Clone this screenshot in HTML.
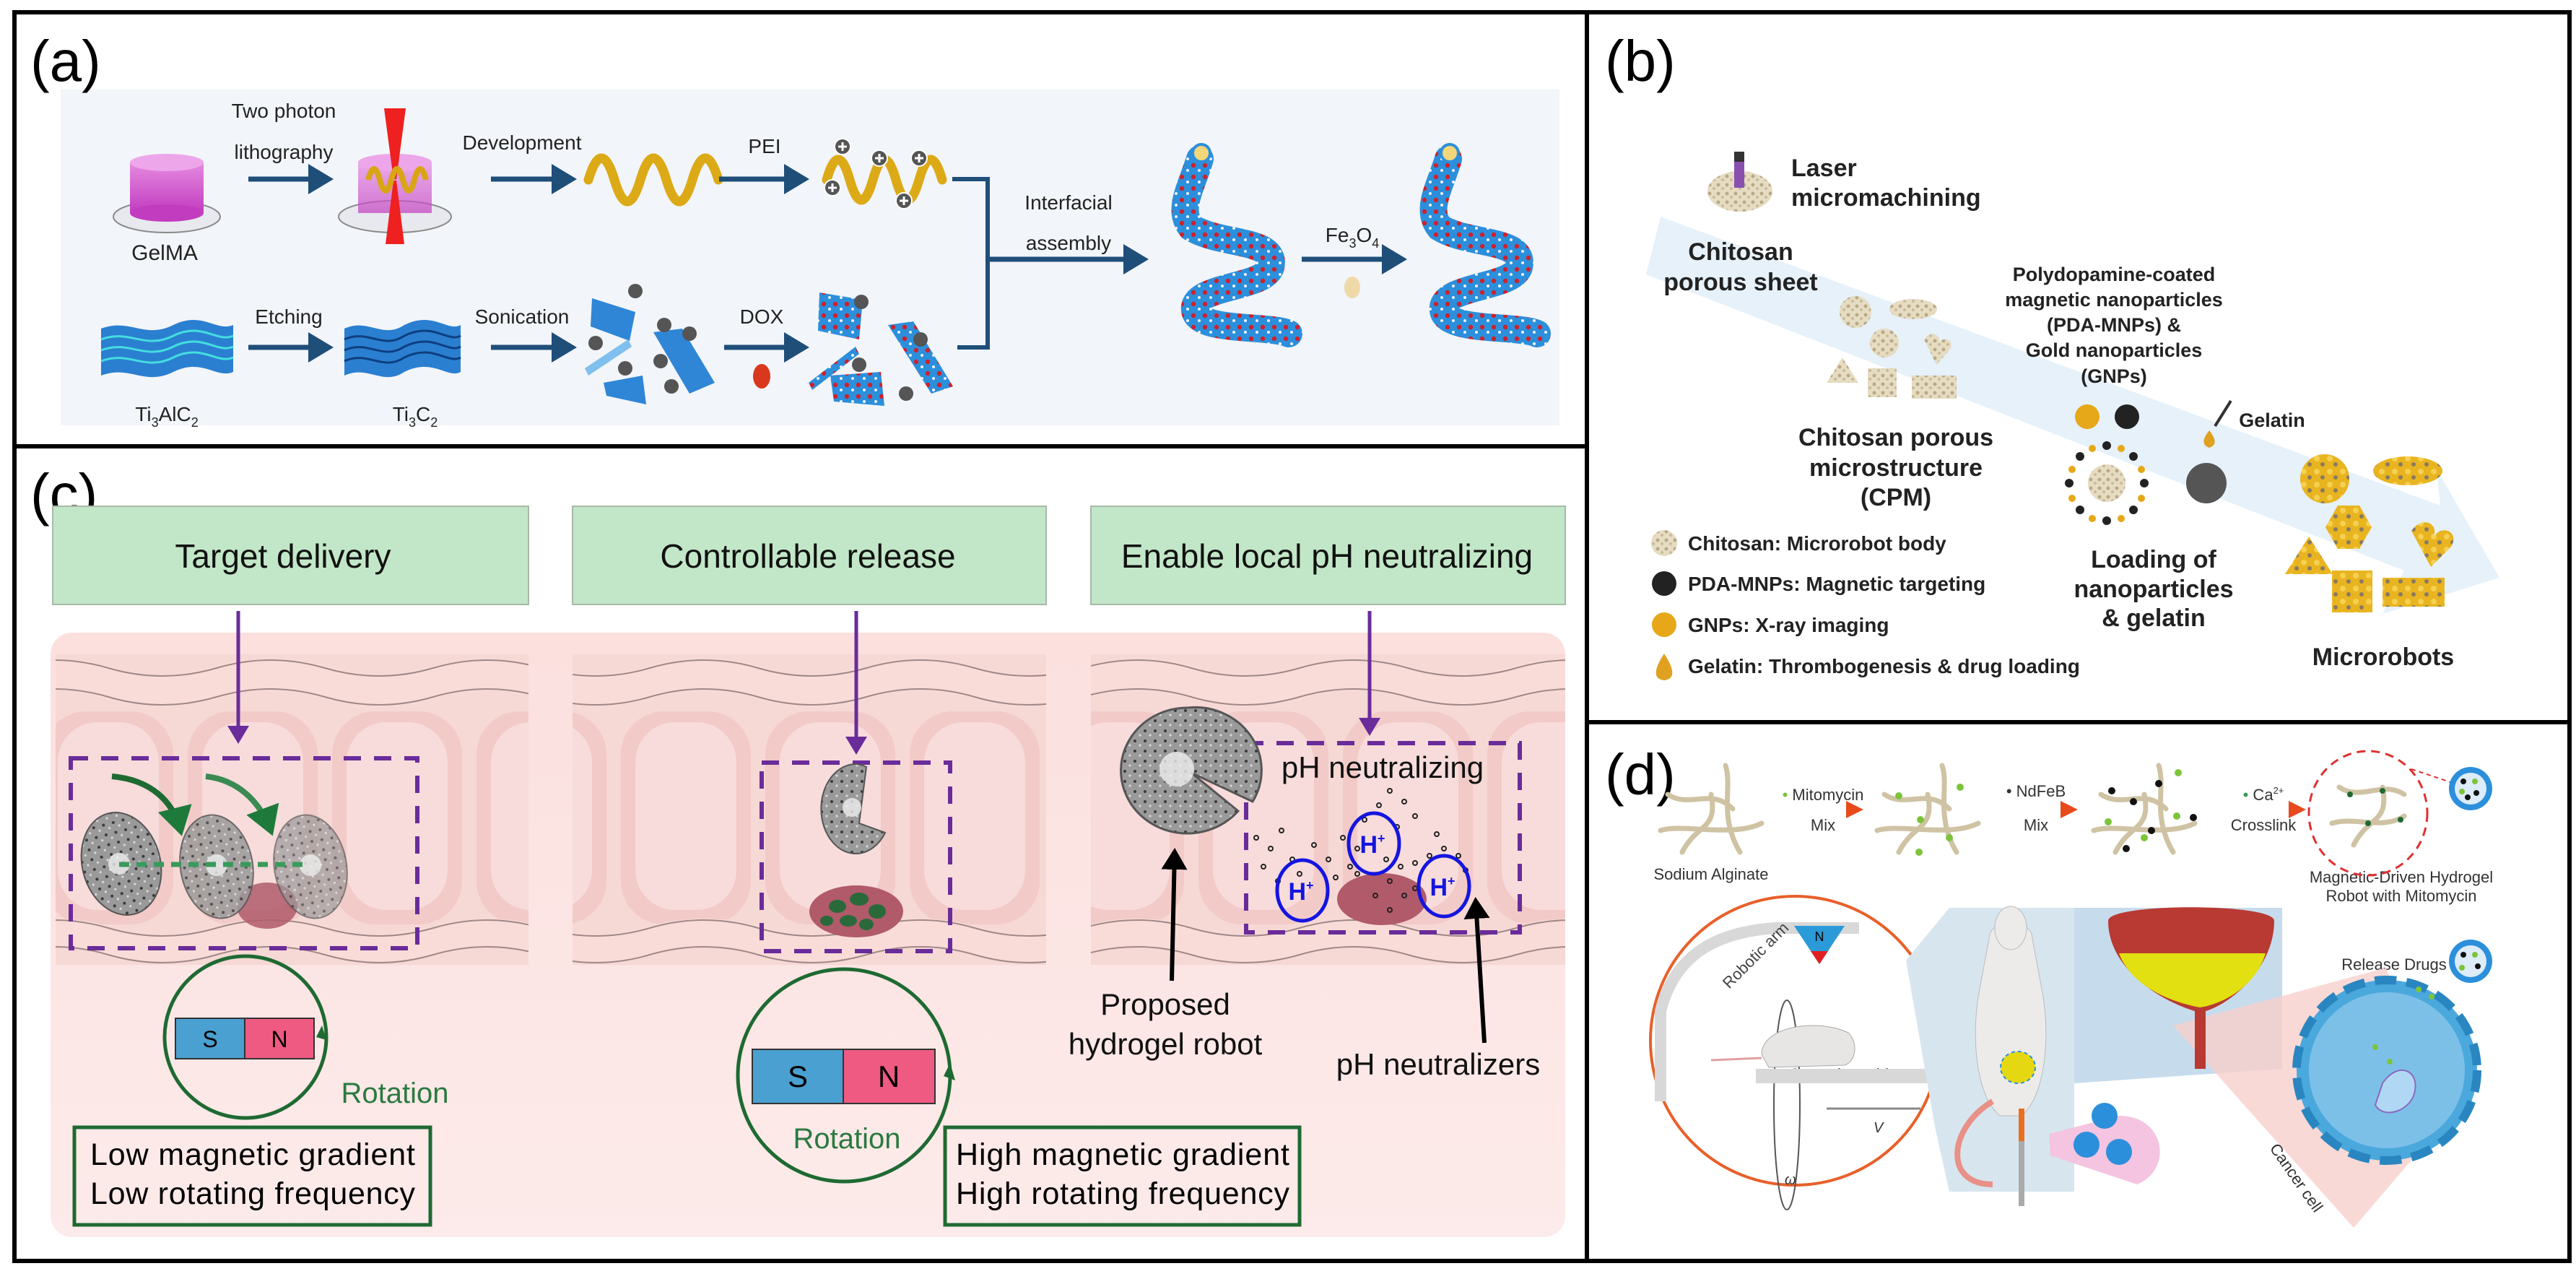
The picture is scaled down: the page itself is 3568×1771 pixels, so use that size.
<!DOCTYPE html>
<html><head><meta charset="utf-8"><style>
html,body{margin:0;padding:0;background:#fff}
svg{display:block}
text{font-family:"Liberation Sans",sans-serif}
</style></head><body>
<svg width="3568" height="1771" viewBox="0 0 3568 1771" xmlns="http://www.w3.org/2000/svg">
<defs>
<linearGradient id="mag" x1="0" y1="0" x2="0" y2="1"><stop offset="0" stop-color="#e58ae0"/><stop offset="1" stop-color="#c23cc0"/></linearGradient>
<linearGradient id="pinkbg" x1="0" y1="0" x2="0" y2="1"><stop offset="0" stop-color="#fbe0de"/><stop offset="1" stop-color="#fcebea"/></linearGradient>
<linearGradient id="orar" x1="0" y1="0" x2="1" y2="0"><stop offset="0" stop-color="#f6c070"/><stop offset="1" stop-color="#e84a1c"/></linearGradient>
<pattern id="rdots" width="16" height="16" patternUnits="userSpaceOnUse"><rect width="16" height="16" fill="#2c8fdc"/><circle cx="5" cy="5" r="3.2" fill="#d0202a"/><circle cx="13" cy="12" r="2" fill="#f3f3f3"/></pattern>
<pattern id="gdots" width="14" height="14" patternUnits="userSpaceOnUse"><rect width="14" height="14" fill="#9a9a9a"/><circle cx="4" cy="4" r="2" fill="#3a3a3a"/><circle cx="11" cy="10" r="1.6" fill="#d8d8d8"/></pattern>
<pattern id="chit" width="12" height="12" patternUnits="userSpaceOnUse"><rect width="12" height="12" fill="#e6dcc2"/><circle cx="4" cy="4" r="2.5" fill="#b9a987"/><circle cx="10" cy="9" r="2" fill="#c9bb9a"/></pattern>
<pattern id="gold" width="18" height="18" patternUnits="userSpaceOnUse"><rect width="18" height="18" fill="#e8b420"/><circle cx="5" cy="5" r="4" fill="#f6d050"/><circle cx="13" cy="13" r="3" fill="#8a7a60"/></pattern>
<marker id="ab" markerWidth="6" markerHeight="6" refX="4" refY="3" orient="auto"><path d="M0,0 L5,3 L0,6 Z" fill="#1f4e79"/></marker>
<marker id="ap" markerWidth="5" markerHeight="6" refX="4" refY="3" orient="auto"><path d="M0,0 L5,3 L0,6 Z" fill="#6a2c9a"/></marker>
<marker id="ak" markerWidth="5" markerHeight="6" refX="4" refY="3" orient="auto"><path d="M0,0 L5,3 L0,6 Z" fill="#000"/></marker>
<marker id="ag" markerWidth="5" markerHeight="6" refX="4" refY="3" orient="auto"><path d="M0,0 L5,3 L0,6 Z" fill="#1e7a3a"/></marker>
<marker id="ao" markerWidth="4" markerHeight="4" refX="3" refY="2" orient="auto"><path d="M0,0 L4,2 L0,4 Z" fill="#e84a1c"/></marker>
<clipPath id="intc"><rect x="77" y="900" width="655" height="436"/><rect x="793" y="900" width="656" height="436"/><rect x="1511" y="900" width="657" height="436"/></clipPath>
<path id="wv" d="M0,0 Q75,-22 150,0 T300,0 T450,0 T600,0 T750,0 T900,0 T1050,0 T1200,0 T1350,0 T1500,0 T1650,0 T1800,0 T1950,0 T2100,0 T2250,0" fill="none"/>
</defs>

<!-- ============ PANEL (a) ============ -->
<rect x="84" y="124" width="2076" height="465" fill="#f2f5f9"/>
<text x="42" y="112" font-size="80" font-family="Liberation Serif">(a)</text>
<ellipse cx="231" cy="300" rx="74" ry="22" fill="#e8e9ee" stroke="#8a8a8a" stroke-width="2"/>
<rect x="180" y="225" width="102" height="70" fill="url(#mag)"/>
<ellipse cx="231" cy="225" rx="51" ry="12" fill="#eda6ea"/>
<ellipse cx="231" cy="295" rx="51" ry="12" fill="#c23cc0"/>
<text x="228" y="360" font-size="30" text-anchor="middle" fill="#222">GelMA</text>
<text x="393" y="163" font-size="28" text-anchor="middle" fill="#222">Two photon</text>
<text x="393" y="220" font-size="28" text-anchor="middle" fill="#222">lithography</text>
<line x1="344" y1="248" x2="455" y2="248" stroke="#1f4e79" stroke-width="7" marker-end="url(#ab)"/>
<ellipse cx="547" cy="300" rx="78" ry="22" fill="#e8e9ee" stroke="#8a8a8a" stroke-width="2"/>
<rect x="496" y="225" width="102" height="70" fill="url(#mag)" opacity="0.7"/>
<ellipse cx="547" cy="225" rx="51" ry="12" fill="#eda6ea"/>
<path d="M532,150 L562,150 L549,248 L545,248 Z" fill="#ee2020"/>
<path d="M545,250 L549,250 L560,338 L534,338 Z" fill="#ee2020"/>
<path d="M510,249 q8,-30 16,0 t16,0 t16,0 t16,0 t16,0" fill="none" stroke="#d9a514" stroke-width="8"/>
<text x="723" y="207" font-size="28" text-anchor="middle" fill="#222">Development</text>
<line x1="680" y1="248" x2="792" y2="248" stroke="#1f4e79" stroke-width="7" marker-end="url(#ab)"/>
<path d="M815,249 q18,-60 36,0 t36,0 t36,0 t36,0 t36,0" fill="none" stroke="#dcaa16" stroke-width="13" stroke-linecap="round"/>
<text x="1059" y="212" font-size="28" text-anchor="middle" fill="#222">PEI</text>
<line x1="996" y1="248" x2="1114" y2="248" stroke="#1f4e79" stroke-width="7" marker-end="url(#ab)"/>
<path d="M1145,249 q16,-56 32,0 t32,0 t32,0 t32,0 t32,0" fill="none" stroke="#dcaa16" stroke-width="13" stroke-linecap="round"/>
<g fill="#555" stroke="#fff" stroke-width="2"><circle cx="1167" cy="203" r="11"/><circle cx="1218" cy="219" r="11"/><circle cx="1273" cy="219" r="11"/><circle cx="1153" cy="260" r="11"/><circle cx="1252" cy="278" r="11"/></g>
<g fill="none" stroke="#fff" stroke-width="3"><path d="M1161,203h12M1167,197v12M1212,219h12M1218,213v12M1267,219h12M1273,213v12M1147,260h12M1153,254v12M1246,278h12M1252,272v12"/></g>
<path d="M1319,248 H1368 V481 H1326" fill="none" stroke="#1f4e79" stroke-width="6"/>
<line x1="1368" y1="359" x2="1584" y2="359" stroke="#1f4e79" stroke-width="7" marker-end="url(#ab)"/>
<text x="1480" y="290" font-size="28" text-anchor="middle" fill="#222">Interfacial</text>
<text x="1480" y="346" font-size="28" text-anchor="middle" fill="#222">assembly</text>
<g fill="none" stroke="url(#rdots)" stroke-width="38" stroke-linecap="round">
<path d="M1662,220 C1650,260 1630,290 1650,315 C1690,340 1770,330 1760,370 C1750,400 1650,395 1655,430 C1660,460 1760,450 1785,462"/>
<path d="M2006,220 C1994,260 1974,290 1994,315 C2034,340 2114,330 2104,370 C2094,400 1994,395 1999,430 C2004,460 2104,450 2129,462"/>
</g>
<circle cx="1664" cy="212" r="12" fill="#f1d77a" stroke="#2c8fdc" stroke-width="4"/>
<circle cx="2008" cy="212" r="12" fill="#f1d77a" stroke="#2c8fdc" stroke-width="4"/>
<text x="1873" y="335" font-size="28" text-anchor="middle" fill="#222">Fe<tspan font-size="18" dy="8">3</tspan><tspan dy="-8">O</tspan><tspan font-size="18" dy="8">4</tspan></text>
<line x1="1803" y1="359" x2="1942" y2="359" stroke="#1f4e79" stroke-width="7" marker-end="url(#ab)"/>
<ellipse cx="1873" cy="398" rx="11" ry="15" fill="#efd9a8"/>
<g>
<path d="M140,455 C180,440 200,470 240,450 C280,430 300,460 323,450 L323,515 C300,525 280,495 240,515 C200,535 180,505 140,520 Z" fill="#2b7fd0"/>
<g stroke="#44dde0" stroke-width="3" fill="none"><path d="M140,470 C180,455 200,485 240,465 C280,445 300,475 323,465"/><path d="M140,485 C180,470 200,500 240,480 C280,460 300,490 323,480"/><path d="M140,500 C180,485 200,515 240,495 C280,475 300,505 323,495"/></g>
</g>
<text x="231" y="583" font-size="28" text-anchor="middle" fill="#222">Ti<tspan font-size="18" dy="8">3</tspan><tspan dy="-8">AlC</tspan><tspan font-size="18" dy="8">2</tspan></text>
<text x="400" y="448" font-size="28" text-anchor="middle" fill="#222">Etching</text>
<line x1="344" y1="481" x2="455" y2="481" stroke="#1f4e79" stroke-width="7" marker-end="url(#ab)"/>
<g>
<path d="M477,455 C510,440 530,470 560,450 C600,430 620,460 638,450 L638,515 C620,525 600,495 560,515 C530,535 510,505 477,520 Z" fill="#2b7fd0"/>
<g stroke="#0d3f80" stroke-width="3" fill="none"><path d="M477,470 C510,455 530,485 560,465 C600,445 620,475 638,465"/><path d="M477,485 C510,470 530,500 560,480 C600,460 620,490 638,480"/><path d="M477,500 C510,485 530,515 560,495 C600,475 620,505 638,495"/></g>
</g>
<text x="575" y="583" font-size="28" text-anchor="middle" fill="#222">Ti<tspan font-size="18" dy="8">3</tspan><tspan dy="-8">C</tspan><tspan font-size="18" dy="8">2</tspan></text>
<text x="723" y="448" font-size="28" text-anchor="middle" fill="#222">Sonication</text>
<line x1="680" y1="481" x2="792" y2="481" stroke="#1f4e79" stroke-width="7" marker-end="url(#ab)"/>
<g fill="#2f86d6"><path d="M820,413 L880,432 L872,472 L818,452 Z"/><path d="M905,460 L945,455 L990,530 L955,545 Z"/><path d="M836,530 L890,520 L895,560 L840,548 Z"/><path d="M810,510 L870,470 L875,480 L815,520 Z" fill="#7fc0ee"/></g>
<g fill="#555"><circle cx="880" cy="403" r="10"/><circle cx="920" cy="450" r="10"/><circle cx="825" cy="475" r="10"/><circle cx="915" cy="500" r="10"/><circle cx="866" cy="510" r="10"/><circle cx="930" cy="535" r="10"/><circle cx="955" cy="462" r="10"/></g>
<text x="1055" y="448" font-size="28" text-anchor="middle" fill="#222">DOX</text>
<line x1="1003" y1="481" x2="1114" y2="481" stroke="#1f4e79" stroke-width="7" marker-end="url(#ab)"/>
<ellipse cx="1055" cy="521" rx="12" ry="17" fill="#d9381e"/>
<g fill="url(#rdots)"><path d="M1135,405 L1195,415 L1190,470 L1133,458 Z"/><path d="M1230,450 L1265,445 L1320,535 L1290,545 Z"/><path d="M1150,520 L1220,515 L1225,562 L1155,556 Z"/><path d="M1120,530 L1185,480 L1190,490 L1125,540 Z"/></g>
<g fill="#555"><circle cx="1193" cy="418" r="10"/><circle cx="1275" cy="470" r="10"/><circle cx="1190" cy="505" r="10"/><circle cx="1255" cy="545" r="10"/></g>

<!-- ============ PANEL (c) ============ -->
<text x="42" y="712" font-size="80" font-family="Liberation Serif">(c)</text>
<g fill="#c2e7c8" stroke="#a8b8a8" stroke-width="2">
<rect x="73" y="701" width="659" height="136"/><rect x="793" y="701" width="656" height="136"/><rect x="1511" y="701" width="657" height="136"/>
</g>
<text x="392" y="786" font-size="46" text-anchor="middle" fill="#111">Target delivery</text>
<text x="1119" y="786" font-size="46" text-anchor="middle" fill="#111">Controllable release</text>
<text x="1838" y="786" font-size="46" text-anchor="middle" fill="#111">Enable local pH neutralizing</text>
<rect x="70" y="876" width="2098" height="837" rx="30" fill="url(#pinkbg)"/>
<g clip-path="url(#intc)">
<rect x="0" y="906" width="2200" height="430" fill="#f6d8d5"/>
<g fill="#f2cac8">
<rect x="60" y="985" width="180" height="295" rx="60"/><rect x="260" y="985" width="180" height="295" rx="60"/><rect x="460" y="985" width="180" height="295" rx="60"/><rect x="660" y="985" width="180" height="295" rx="60"/><rect x="860" y="985" width="180" height="295" rx="60"/><rect x="1060" y="985" width="180" height="295" rx="60"/><rect x="1260" y="985" width="180" height="295" rx="60"/><rect x="1460" y="985" width="180" height="295" rx="60"/><rect x="1660" y="985" width="180" height="295" rx="60"/><rect x="1860" y="985" width="180" height="295" rx="60"/><rect x="2060" y="985" width="180" height="295" rx="60"/>
</g>
<g fill="#f7dcdb"><rect x="80" y="1000" width="140" height="260" rx="55"/><rect x="280" y="1000" width="140" height="260" rx="55"/><rect x="480" y="1000" width="140" height="260" rx="55"/><rect x="680" y="1000" width="140" height="260" rx="55"/><rect x="880" y="1000" width="140" height="260" rx="55"/><rect x="1080" y="1000" width="140" height="260" rx="55"/><rect x="1280" y="1000" width="140" height="260" rx="55"/><rect x="1480" y="1000" width="140" height="260" rx="55"/><rect x="1680" y="1000" width="140" height="260" rx="55"/><rect x="1880" y="1000" width="140" height="260" rx="55"/><rect x="2080" y="1000" width="140" height="260" rx="55"/></g>
<use href="#wv" x="0" y="945" stroke="#f9dcd8" stroke-width="44"/>
<use href="#wv" x="0" y="925" stroke="#a08888" stroke-width="2"/>
<use href="#wv" x="0" y="965" stroke="#a08888" stroke-width="2"/>
<use href="#wv" x="0" y="1303" stroke="#f9dcd8" stroke-width="40"/>
<use href="#wv" x="0" y="1285" stroke="#a08888" stroke-width="2"/>
<use href="#wv" x="0" y="1322" stroke="#a08888" stroke-width="2"/>
</g>
<g stroke="#6a2c9a" stroke-width="5">
<line x1="330" y1="846" x2="330" y2="1025" marker-end="url(#ap)"/>
<line x1="1186" y1="846" x2="1186" y2="1040" marker-end="url(#ap)"/>
<line x1="1897" y1="846" x2="1897" y2="1014" marker-end="url(#ap)"/>
</g>
<g fill="none" stroke="#6a2c9a" stroke-width="6" stroke-dasharray="24 18">
<rect x="98" y="1050" width="480" height="263"/>
<rect x="1055" y="1056" width="261" height="261"/>
<rect x="1726" y="1029" width="379" height="262"/>
</g>
<ellipse cx="370" cy="1254" rx="42" ry="32" fill="#b05a6a" opacity="0.85"/>
<g stroke="#555" stroke-width="2" fill="url(#gdots)">
<ellipse cx="168" cy="1196" rx="54" ry="72" transform="rotate(-15 168 1196)"/>
<ellipse cx="300" cy="1200" rx="50" ry="72" transform="rotate(-10 300 1200)" opacity="0.85"/>
<ellipse cx="430" cy="1200" rx="50" ry="72" transform="rotate(-10 430 1200)" opacity="0.7"/>
</g>
<g fill="#eee" opacity="0.8"><circle cx="165" cy="1196" r="15"/><circle cx="300" cy="1198" r="15"/><circle cx="430" cy="1198" r="15"/></g>
<line x1="165" y1="1197" x2="420" y2="1197" stroke="#3a9a5a" stroke-width="7" stroke-dasharray="14 10"/>
<path d="M155,1075 C210,1080 240,1110 250,1150" fill="none" stroke="#1e6a32" stroke-width="8" marker-end="url(#ag)"/>
<path d="M285,1075 C330,1080 360,1110 375,1150" fill="none" stroke="#3a8a52" stroke-width="8" marker-end="url(#ag)"/>
<circle cx="340" cy="1436" r="112" fill="none" stroke="#1e6a32" stroke-width="5"/>
<path d="M446,1420 l6,20 l-14,-4 z" fill="#1e6a32"/>
<rect x="243" y="1410" width="96" height="56" fill="#4aa0d0" stroke="#333" stroke-width="2"/>
<rect x="339" y="1410" width="96" height="56" fill="#ee5a82" stroke="#333" stroke-width="2"/>
<text x="291" y="1450" font-size="32" text-anchor="middle">S</text>
<text x="387" y="1450" font-size="32" text-anchor="middle">N</text>
<text x="547" y="1527" font-size="40" text-anchor="middle" fill="#2a7a40">Rotation</text>
<rect x="103" y="1561" width="493" height="135" fill="none" stroke="#1e6a32" stroke-width="5"/>
<text x="125" y="1613" font-size="43" textLength="450">Low magnetic gradient</text>
<text x="125" y="1667" font-size="43" textLength="450">Low rotating frequency</text>
<ellipse cx="1186" cy="1262" rx="65" ry="36" fill="#b05a6a"/>
<g fill="#2a6a3a"><ellipse cx="1160" cy="1255" rx="12" ry="9"/><ellipse cx="1190" cy="1245" rx="13" ry="9"/><ellipse cx="1215" cy="1262" rx="12" ry="10"/><ellipse cx="1175" cy="1275" rx="12" ry="8"/><ellipse cx="1200" cy="1280" rx="10" ry="8"/><ellipse cx="1145" cy="1275" rx="9" ry="7"/></g>
<path d="M1186,1120 m0,-62 a48,62 0 1,0 40,95 L1190,1140 L1200,1062 A48,62 0 0,0 1186,1058" fill="url(#gdots)" stroke="#555" stroke-width="2"/>
<circle cx="1180" cy="1118" r="13" fill="#eee" opacity="0.8"/>
<circle cx="1169" cy="1489" r="147" fill="none" stroke="#1e6a32" stroke-width="5"/>
<path d="M1316,1472 l7,24 l-16,-6 z" fill="#1e6a32"/>
<rect x="1042" y="1453" width="126" height="75" fill="#4aa0d0" stroke="#333" stroke-width="2"/>
<rect x="1168" y="1453" width="127" height="75" fill="#ee5a82" stroke="#333" stroke-width="2"/>
<text x="1105" y="1505" font-size="42" text-anchor="middle">S</text>
<text x="1231" y="1505" font-size="42" text-anchor="middle">N</text>
<text x="1173" y="1590" font-size="40" text-anchor="middle" fill="#2a7a40">Rotation</text>
<rect x="1309" y="1561" width="491" height="135" fill="none" stroke="#1e6a32" stroke-width="5"/>
<text x="1324" y="1613" font-size="43" textLength="462">High magnetic gradient</text>
<text x="1324" y="1667" font-size="43" textLength="462">High rotating frequency</text>
<path d="M1645,1067 m0,-87 a92,87 0 1,0 70,143 L1650,1070 L1735,1110 A92,87 0 0,0 1645,980" fill="url(#gdots)" stroke="#555" stroke-width="3"/>
<circle cx="1630" cy="1065" r="24" fill="#eee" opacity="0.8"/>
<ellipse cx="1914" cy="1245" rx="62" ry="36" fill="#b05a6a"/>
<g fill="none" stroke="#222" stroke-width="2">
<circle cx="1740" cy="1160" r="3"/><circle cx="1760" cy="1175" r="3"/><circle cx="1775" cy="1150" r="3"/><circle cx="1790" cy="1190" r="3"/><circle cx="1750" cy="1200" r="3"/><circle cx="1820" cy="1170" r="3"/><circle cx="1840" cy="1190" r="3"/><circle cx="1860" cy="1160" r="3"/><circle cx="1870" cy="1200" r="3"/><circle cx="1890" cy="1135" r="3"/><circle cx="1910" cy="1115" r="3"/><circle cx="1925" cy="1095" r="3"/><circle cx="1945" cy="1110" r="3"/><circle cx="1960" cy="1130" r="3"/><circle cx="1935" cy="1145" r="3"/><circle cx="1920" cy="1190" r="3"/><circle cx="1940" cy="1200" r="3"/><circle cx="1960" cy="1195" r="3"/><circle cx="1980" cy="1185" r="3"/><circle cx="2000" cy="1175" r="3"/><circle cx="2020" cy="1185" r="3"/><circle cx="1990" cy="1155" r="3"/><circle cx="2030" cy="1205" r="3"/><circle cx="1960" cy="1230" r="3"/><circle cx="1925" cy="1220" r="3"/><circle cx="1905" cy="1240" r="3"/><circle cx="1925" cy="1260" r="3"/><circle cx="1945" cy="1240" r="3"/><circle cx="1880" cy="1210" r="3"/><circle cx="1800" cy="1210" r="3"/><circle cx="1770" cy="1220" r="3"/><circle cx="1850" cy="1215" r="3"/><circle cx="1880" cy="1175" r="3"/>
</g>
<g fill="none" stroke="#1515e0" stroke-width="5"><ellipse cx="1804" cy="1233" rx="35" ry="42"/><ellipse cx="1903" cy="1168" rx="35" ry="42"/><ellipse cx="2000" cy="1227" rx="35" ry="42"/></g>
<g font-size="34" font-weight="bold" fill="#1515e0" text-anchor="middle"><text x="1802" y="1246">H<tspan font-size="18" dy="-14">+</tspan></text><text x="1901" y="1181">H<tspan font-size="18" dy="-14">+</tspan></text><text x="1998" y="1240">H<tspan font-size="18" dy="-14">+</tspan></text></g>
<text x="1915" y="1077" font-size="42" text-anchor="middle" fill="#111">pH neutralizing</text>
<line x1="1623" y1="1358" x2="1627" y2="1180" stroke="#000" stroke-width="6" marker-end="url(#ak)"/>
<line x1="2056" y1="1444" x2="2044" y2="1248" stroke="#000" stroke-width="6" marker-end="url(#ak)"/>
<text x="1614" y="1405" font-size="42" text-anchor="middle" fill="#111">Proposed</text>
<text x="1614" y="1460" font-size="42" text-anchor="middle" fill="#111">hydrogel robot</text>
<text x="1992" y="1488" font-size="42" text-anchor="middle" fill="#111">pH neutralizers</text>

<!-- ============ PANEL (b) ============ -->
<path d="M2300,300 L3380,700 L3375,650 L3462,800 L3300,850 L3330,790 L2280,380 Z" fill="#e6f1fa"/>
<text x="2223" y="112" font-size="80" font-family="Liberation Serif">(b)</text>
<ellipse cx="2410" cy="265" rx="45" ry="28" fill="url(#chit)"/>
<rect x="2402" y="215" width="14" height="45" fill="#8a50b0"/>
<rect x="2402" y="210" width="14" height="14" fill="#333"/>
<g font-weight="bold" font-size="34" fill="#222">
<text x="2481" y="244">Laser</text><text x="2481" y="285">micromachining</text>
<text x="2411" y="360" text-anchor="middle">Chitosan</text><text x="2411" y="402" text-anchor="middle">porous sheet</text>
<text x="2626" y="617" text-anchor="middle">Chitosan porous</text><text x="2626" y="659" text-anchor="middle">microstructure</text><text x="2626" y="700" text-anchor="middle">(CPM)</text>
<text x="2983" y="786" text-anchor="middle">Loading of</text><text x="2983" y="827" text-anchor="middle">nanoparticles</text><text x="2983" y="867" text-anchor="middle">&amp; gelatin</text>
<text x="3301" y="921" text-anchor="middle">Microrobots</text>
</g>
<g font-weight="bold" font-size="27" fill="#222" text-anchor="middle">
<text x="2928" y="389">Polydopamine-coated</text><text x="2928" y="424">magnetic nanoparticles</text><text x="2928" y="459">(PDA-MNPs) &amp;</text><text x="2928" y="494">Gold nanoparticles</text><text x="2928" y="530">(GNPs)</text>
<text x="3147" y="591">Gelatin</text>
</g>
<g font-weight="bold" font-size="28" fill="#222">
<text x="2338" y="762">Chitosan: Microrobot body</text>
<text x="2338" y="818">PDA-MNPs: Magnetic targeting</text>
<text x="2338" y="875">GNPs: X-ray imaging</text>
<text x="2338" y="932">Gelatin: Thrombogenesis &amp; drug loading</text>
</g>
<circle cx="2305" cy="752" r="18" fill="url(#chit)"/>
<circle cx="2305" cy="808" r="17" fill="#222"/>
<circle cx="2305" cy="865" r="17" fill="#e6a818"/>
<path d="M2305,905 C2318,925 2322,940 2305,942 C2288,940 2292,925 2305,905 Z" fill="#e0a020"/>
<g fill="url(#chit)">
<circle cx="2570" cy="432" r="22"/><ellipse cx="2650" cy="428" rx="33" ry="14"/><circle cx="2610" cy="475" r="20"/><path d="M2665,470 c10,-15 25,-5 20,5 c5,-10 25,-5 15,10 l-18,20 z"/><path d="M2530,530 l22,-35 l22,35 z"/><rect x="2587" y="510" width="40" height="40"/><rect x="2648" y="520" width="62" height="32"/>
</g>
<circle cx="2891" cy="577" r="17" fill="#e6a818"/>
<circle cx="2946" cy="577" r="17" fill="#222"/>
<circle cx="2918" cy="669" r="26" fill="url(#chit)"/>
<g fill="#222"><circle cx="2918" cy="617" r="6"/><circle cx="2955" cy="632" r="6"/><circle cx="2970" cy="669" r="6"/><circle cx="2955" cy="706" r="6"/><circle cx="2918" cy="721" r="6"/><circle cx="2881" cy="706" r="6"/><circle cx="2866" cy="669" r="6"/><circle cx="2881" cy="632" r="6"/></g>
<g fill="#e6a818"><circle cx="2938" cy="621" r="5"/><circle cx="2966" cy="650" r="5"/><circle cx="2966" cy="690" r="5"/><circle cx="2938" cy="718" r="5"/><circle cx="2898" cy="718" r="5"/><circle cx="2870" cy="690" r="5"/><circle cx="2870" cy="650" r="5"/><circle cx="2898" cy="621" r="5"/></g>
<path d="M3060,596 C3068,606 3072,616 3060,620 C3048,616 3052,606 3060,596 Z" fill="#e0a020"/>
<line x1="3068" y1="590" x2="3090" y2="555" stroke="#333" stroke-width="4"/>
<circle cx="3056" cy="669" r="28" fill="#555"/>
<g fill="url(#gold)">
<circle cx="3220" cy="663" r="34"/><ellipse cx="3335" cy="652" rx="48" ry="20"/><path d="M3238,700 l30,0 l17,30 l-17,30 l-30,0 l-17,-30 z"/><path d="M3340,735 c15,-22 40,-10 30,10 c10,-20 38,-10 25,12 l-28,28 z"/><path d="M3165,795 l33,-52 l33,52 z"/><rect x="3230" y="790" width="56" height="58"/><rect x="3300" y="800" width="86" height="40"/>
</g>

<!-- ============ PANEL (d) ============ -->
<text x="2223" y="1100" font-size="80" font-family="Liberation Serif">(d)</text>
<g fill="none" stroke="#cfc3a4" stroke-width="7" stroke-linecap="round">
<path d="M2310,1100 C2340,1120 2370,1090 2400,1120 M2330,1180 C2350,1140 2380,1150 2370,1100 M2300,1150 C2330,1140 2400,1160 2440,1140 M2390,1060 C2400,1090 2380,1130 2410,1180"/>
<path d="M2610,1100 C2640,1120 2670,1090 2700,1120 M2630,1180 C2650,1140 2680,1150 2670,1100 M2600,1150 C2630,1140 2700,1160 2740,1140 M2690,1060 C2700,1090 2680,1130 2710,1180"/>
<path d="M2910,1100 C2940,1120 2970,1090 3000,1120 M2930,1180 C2950,1140 2980,1150 2970,1100 M2900,1150 C2930,1140 3000,1160 3040,1140 M2990,1060 C3000,1090 2980,1130 3010,1180"/>
<path d="M3240,1090 C3270,1110 3300,1080 3330,1100 M3260,1170 C3280,1130 3310,1140 3300,1090 M3230,1140 C3260,1130 3300,1150 3330,1130"/>
</g>
<g fill="#7cc43a"><circle cx="2630" cy="1102" r="5"/><circle cx="2660" cy="1135" r="5"/><circle cx="2715" cy="1090" r="5"/><circle cx="2700" cy="1160" r="5"/><circle cx="2658" cy="1180" r="5"/><circle cx="2920" cy="1138" r="5"/><circle cx="2970" cy="1160" r="5"/><circle cx="3017" cy="1070" r="5"/><circle cx="3015" cy="1130" r="5"/></g>
<g fill="#111"><circle cx="2925" cy="1095" r="5"/><circle cx="2955" cy="1110" r="5"/><circle cx="2990" cy="1085" r="5"/><circle cx="2980" cy="1150" r="5"/><circle cx="2945" cy="1175" r="5"/><circle cx="3038" cy="1132" r="5"/></g>
<g fill="#1e6a32"><circle cx="3255" cy="1100" r="4"/><circle cx="3300" cy="1095" r="4"/><circle cx="3325" cy="1135" r="4"/><circle cx="3280" cy="1140" r="4"/></g>
<g stroke="url(#orar)" stroke-width="6"><line x1="2466" y1="1121" x2="2575" y2="1121" marker-end="url(#ao)"/><line x1="2763" y1="1121" x2="2872" y2="1121" marker-end="url(#ao)"/><line x1="3079" y1="1121" x2="3188" y2="1121" marker-end="url(#ao)"/></g>
<g font-size="22" fill="#333" text-anchor="middle">
<text x="2525" y="1108"><tspan fill="#7cc43a">•</tspan> Mitomycin</text><text x="2525" y="1150">Mix</text>
<text x="2820" y="1103">• NdFeB</text><text x="2820" y="1150">Mix</text>
<text x="3135" y="1108"><tspan fill="#3a9a5a">•</tspan> Ca<tspan font-size="13" dy="-9">2+</tspan></text><text x="3135" y="1150">Crosslink</text>
<text x="2370" y="1218">Sodium Alginate</text>
<text x="3326" y="1222">Magnetic-Driven Hydrogel</text><text x="3326" y="1248">Robot with Mitomycin</text>
<text x="3316" y="1343">Release Drugs</text>
<text x="2969" y="1442">Bladder</text>
<text x="2877" y="1582">MHR</text>
<text x="2746" y="1617">Injection</text>
<text x="2553" y="1495">Operating table</text>
</g>
<ellipse cx="3280" cy="1126" rx="82" ry="86" fill="none" stroke="#e03030" stroke-width="3" stroke-dasharray="12 8"/>
<line x1="3340" y1="1065" x2="3400" y2="1085" stroke="#e03030" stroke-width="2" stroke-dasharray="6 5"/>
<circle cx="3422" cy="1092" r="30" fill="#2c8fdc"/><circle cx="3422" cy="1092" r="22" fill="#dcecf8"/>
<g fill="#111"><circle cx="3412" cy="1082" r="4"/><circle cx="3430" cy="1098" r="4"/><circle cx="3418" cy="1104" r="4"/></g><g fill="#7cc43a"><circle cx="3428" cy="1082" r="4"/><circle cx="3410" cy="1096" r="4"/></g>
<circle cx="2486" cy="1441" r="200" fill="none" stroke="#e8602a" stroke-width="4"/>
<path d="M2300,1525 L2300,1400 C2320,1320 2380,1290 2460,1285 L2575,1285" fill="none" stroke="#d8d8d8" stroke-width="16"/>
<text x="2395" y="1370" font-size="22" fill="#444" transform="rotate(-45 2395 1370)">Robotic arm</text>
<path d="M2485,1282 L2555,1282 L2520,1335 Z" fill="#2a9ad8"/><path d="M2508,1317 L2532,1317 L2520,1335 Z" fill="#e02020"/>
<text x="2520" y="1303" font-size="18" text-anchor="middle">N</text>
<ellipse cx="2475" cy="1530" rx="18" ry="145" fill="none" stroke="#555" stroke-width="2"/>
<path d="M2440,1460 C2440,1420 2520,1410 2560,1430 C2575,1445 2570,1470 2555,1475 L2450,1478 Z" fill="#e8e6e4" stroke="#aaa" stroke-width="1"/>
<line x1="2370" y1="1468" x2="2440" y2="1465" stroke="#e2a0a0" stroke-width="3"/>
<rect x="2432" y="1480" width="240" height="20" fill="#d8d8d8"/>
<line x1="2530" y1="1535" x2="2660" y2="1535" stroke="#888" stroke-width="3"/>
<text x="2595" y="1568" font-size="20" font-style="italic" fill="#333">V</text>
<text x="2472" y="1640" font-size="20" font-style="italic" fill="#333">ω</text>
<path d="M2640,1330 L2700,1257 L2873,1257 L2873,1650 L2700,1650 L2680,1560 Z" fill="#d7e6ee"/>
<path d="M2873,1257 L3161,1257 L3161,1480 L2873,1500 Z" fill="#c6dcec"/>
<path d="M3010,1420 L3305,1340 L3380,1560 L3260,1700 Z" fill="#f8d0cc" opacity="0.8"/>
<path d="M2755,1300 C2755,1270 2815,1270 2815,1300 L2830,1380 C2840,1450 2830,1520 2800,1545 L2770,1545 C2740,1520 2730,1450 2740,1380 Z" fill="#ecebea" stroke="#bbb"/>
<ellipse cx="2785" cy="1285" rx="22" ry="30" fill="#ecebea" stroke="#bbb"/>
<path d="M2760,1525 C2700,1560 2690,1640 2760,1640" fill="none" stroke="#e99088" stroke-width="8"/>
<line x1="2800" y1="1535" x2="2800" y2="1670" stroke="#aaa" stroke-width="8"/>
<line x1="2800" y1="1535" x2="2800" y2="1580" stroke="#e87020" stroke-width="8"/>
<ellipse cx="2795" cy="1478" rx="24" ry="22" fill="#e6d810" stroke="#2c8fdc" stroke-dasharray="5 4" stroke-width="2"/>
<path d="M2838,1570 L2935,1545 C3000,1545 3010,1620 2960,1640 L2840,1600 Z" fill="#f4c4e0"/>
<g><circle cx="2915" cy="1545" r="18" fill="#2c8fdc"/><circle cx="2890" cy="1585" r="18" fill="#2c8fdc"/><circle cx="2935" cy="1595" r="18" fill="#2c8fdc"/></g>
<path d="M2920,1275 C2920,1250 3150,1250 3150,1275 C3150,1340 3090,1390 3055,1400 L3055,1480 L3040,1480 L3040,1400 C2990,1385 2920,1340 2920,1275 Z" fill="#b83a32"/>
<path d="M2935,1320 L3138,1320 C3125,1365 3080,1390 3047,1395 C2995,1385 2950,1360 2935,1320 Z" fill="#e2e010"/>
<circle cx="3306" cy="1482" r="125" fill="#4aa8dc" stroke="#2a86c0" stroke-width="12" stroke-dasharray="30 14"/>
<circle cx="3306" cy="1482" r="108" fill="#7cc0e8"/>
<path d="M3300,1500 C3320,1470 3350,1480 3345,1510 C3340,1540 3300,1550 3290,1530 Z" fill="#b0d8f4" stroke="#8a6ac0" stroke-width="2"/>
<circle cx="3422" cy="1331" r="30" fill="#2c8fdc"/><circle cx="3422" cy="1331" r="22" fill="#dcecf8"/>
<g fill="#111"><circle cx="3412" cy="1322" r="4"/><circle cx="3432" cy="1338" r="4"/></g><g fill="#7cc43a"><circle cx="3428" cy="1322" r="4"/><circle cx="3410" cy="1340" r="4"/><circle cx="3350" cy="1370" r="4"/><circle cx="3368" cy="1380" r="4"/><circle cx="3290" cy="1450" r="4"/><circle cx="3310" cy="1470" r="4"/></g>
<text x="3143" y="1590" font-size="22" fill="#333" transform="rotate(55 3143 1590)">Cancer cell</text>

<g stroke="#000" stroke-width="6" fill="none">
<rect x="20" y="17" width="3539" height="1729"/>
<line x1="2198" y1="17" x2="2198" y2="1746"/>
<line x1="20" y1="618" x2="2198" y2="618"/>
<line x1="2198" y1="1000" x2="3559" y2="1000"/>
</g>
</svg>
</body></html>
